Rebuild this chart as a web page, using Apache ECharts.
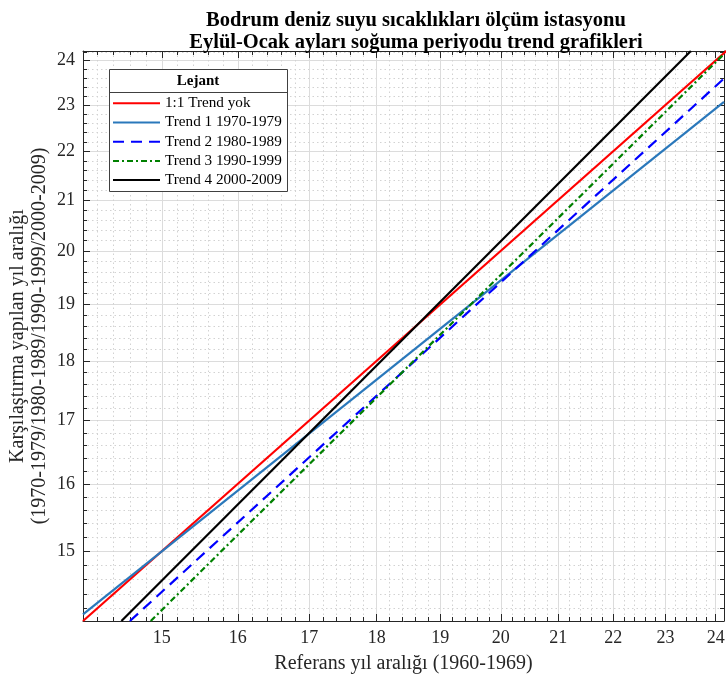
<!DOCTYPE html>
<html>
<head>
<meta charset="utf-8">
<script src="https://cdn.jsdelivr.net/npm/echarts@6/dist/echarts.min.js"></script>
<style>
html,body{margin:0;padding:0;background:#fff;}
#chart{width:726px;height:679px;}
</style>
</head>
<body>
<div id="chart"></div>
<script>
// ---- data ----
var titleLines = ['Bodrum deniz suyu sıcaklıkları ölçüm istasyonu', 'Eylül-Ocak ayları soğuma periyodu trend grafikleri'];
var xAxisName = 'Referans yıl aralığı (1960-1969)';
var yAxisName = 'Karşılaştırma yapılan yıl aralığı\n(1970-1979/1980-1989/1990-1999/2000-2009)';
var legendTitle = 'Lejant';
var xRange = [14.03, 24.17];
var yRange = [14.03, 24.22];
var majorTicks = [15, 16, 17, 18, 19, 20, 21, 22, 23, 24];
var minorTicks = [14.2, 14.4, 14.6, 14.8, 15.2, 15.4, 15.6, 15.8, 16.2, 16.4, 16.6, 16.8,
  17.2, 17.4, 17.6, 17.8, 18.2, 18.4, 18.6, 18.8, 19.2, 19.4, 19.6, 19.8, 20.2, 20.4, 20.6, 20.8,
  21.2, 21.4, 21.6, 21.8, 22.2, 22.4, 22.6, 22.8, 23.2, 23.4, 23.6, 23.8, 24.2];
var seriesNames = ['1:1 Trend yok', 'Trend 1 1970-1979', 'Trend 2 1980-1989', 'Trend 3 1990-1999', 'Trend 4 2000-2009'];
var trend0 = [[14.03, 14.03], [24.25, 24.25]];
var trend1 = [[14.03, 14.12], [24.17, 23.07]];
var trend2 = [[14.60, 14.03], [24.17, 23.59]];
var trend3 = [[14.86, 14.03], [24.17, 24.15]];
var trend4 = [[14.495, 14.03], [23.50, 24.22]];

// ---- styles ----
var FONT = 'Liberation Serif';
var AX = '#262626';
var colors = ['#ff0000', '#2a78bb', '#0000ff', '#008000', '#000000'];
var dashes = ['solid', 'solid', [11, 7], [6, 3, 2, 3], 'solid'];

function makeAxis(pos, range, isMajor, primary) {
  return {
    type: 'log',
    logBase: 10,
    position: pos,
    min: range[0],
    max: range[1],
    axisLine: { show: isMajor, onZero: false, lineStyle: { color: AX, width: 1 } },
    axisTick: {
      show: true, inside: true, length: isMajor ? 7 : 4,
      customValues: isMajor ? majorTicks : minorTicks,
      lineStyle: { color: AX, width: 1 }
    },
    axisLabel: {
      show: primary && isMajor,
      customValues: majorTicks,
      color: AX, fontFamily: FONT, fontSize: 18, margin: 8
    },
    splitLine: primary ? {
      show: true,
      lineStyle: isMajor ? { color: '#dcdcdc', width: 1, type: 'solid' }
                         : { color: '#d2d2d2', width: 1, type: [1.5, 3] }
    } : { show: false },
    minorTick: { show: false },
    minorSplitLine: { show: false }
  };
}

var xAxes = [
  makeAxis('bottom', xRange, true, true),
  makeAxis('bottom', xRange, false, true),
  makeAxis('top', xRange, true, false),
  makeAxis('top', xRange, false, false)
];
xAxes[0].name = xAxisName;
xAxes[0].nameLocation = 'middle';
xAxes[0].nameGap = 33;
xAxes[0].nameTextStyle = { fontFamily: FONT, fontSize: 20, color: AX };

var yAxes = [
  makeAxis('left', yRange, true, true),
  makeAxis('left', yRange, false, true),
  makeAxis('right', yRange, true, false),
  makeAxis('right', yRange, false, false)
];
yAxes[0].name = yAxisName;
yAxes[0].nameLocation = 'middle';
yAxes[0].nameGap = 32;
yAxes[0].nameMoveOverlap = false;
yAxes[0].nameRotate = 90;
yAxes[0].nameTextStyle = { fontFamily: FONT, fontSize: 20, color: AX, lineHeight: 22 };

var trends = [trend0, trend1, trend2, trend3, trend4];
var series = trends.map(function (d, i) {
  return {
    name: seriesNames[i],
    type: 'line',
    xAxisIndex: 0,
    yAxisIndex: 0,
    data: d,
    symbol: 'none',
    showSymbol: false,
    clip: true,
    silent: true,
    lineStyle: { color: colors[i], width: 2.2, type: dashes[i] },
    itemStyle: { color: colors[i] },
    z: 2
  };
});

var chart = echarts.init(document.getElementById('chart'), null, { renderer: 'canvas' });
chart.setOption({
  animation: false,
  backgroundColor: '#ffffff',
  title: {
    text: titleLines.join('\n'),
    left: 411,
    top: 5,
    textAlign: 'center',
    textStyle: { fontFamily: FONT, fontWeight: 'bold', fontSize: 20.5, lineHeight: 22, color: '#000' }
  },
  grid: { left: 83, right: 2, top: 51, bottom: 58, containLabel: false, outerBoundsMode: 'none' },
  xAxis: xAxes,
  yAxis: yAxes,
  legend: {
    show: true,
    orient: 'vertical',
    left: 112,
    top: 95.3,
    itemWidth: 47,
    itemHeight: 16,
    itemGap: 3.2,
    padding: 0,
    data: seriesNames,
    itemStyle: { opacity: 0 },
    textStyle: { fontFamily: FONT, fontSize: 15.2, lineHeight: 16, color: '#000' },
    z: 6
  },
  graphic: [
    { type: 'rect', z: 5, shape: { x: 109.5, y: 69.5, width: 178, height: 122 },
      style: { fill: '#fff', stroke: '#404040', lineWidth: 1 } },
    { type: 'line', z: 5, shape: { x1: 109.5, y1: 92.5, x2: 287.5, y2: 92.5 },
      style: { stroke: '#404040', lineWidth: 1 } },
    { type: 'text', z: 6, x: 198, y: 81,
      style: { text: legendTitle, fontFamily: FONT, fontWeight: 'bold', fontSize: 15, fill: '#000',
               textAlign: 'center', textVerticalAlign: 'middle' } }
  ],
  series: series
});
</script>
</body>
</html>
